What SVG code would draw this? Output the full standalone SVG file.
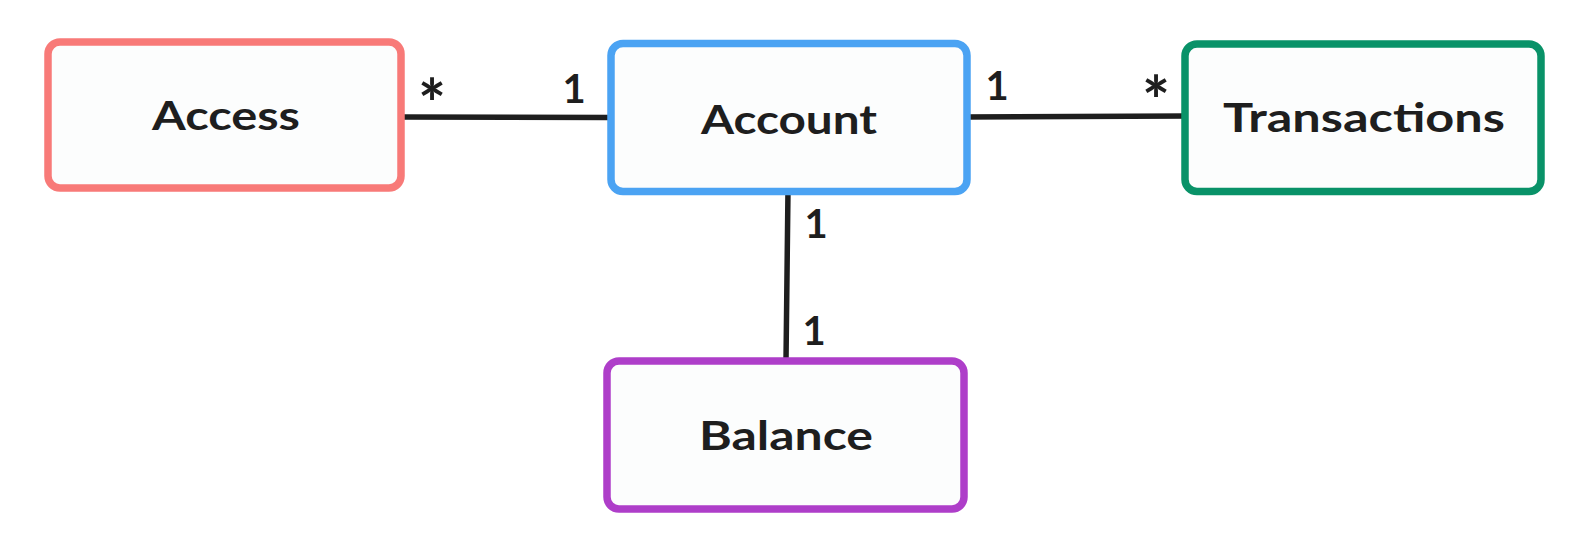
<svg xmlns="http://www.w3.org/2000/svg" width="1588" height="550" viewBox="0 0 1588 550">
<style>
.box{fill:#fcfdfd;stroke-width:7.5;stroke-linejoin:round}
.lbl{font-family:"Lato","Noto Sans",sans-serif;font-weight:700;font-size:41px;fill:#1e1e1e;text-anchor:middle}
.num{font-family:"Lato","Noto Sans",sans-serif;font-weight:700;font-size:40px;fill:#1e1e1e;text-anchor:middle}
.ast{font-family:"Lato","Noto Sans",sans-serif;font-weight:700;font-size:66px;fill:#1e1e1e;text-anchor:middle}
.edge{stroke:#1e1e1e;stroke-width:5.5;stroke-linecap:round;fill:none}
</style>
<rect width="1588" height="550" fill="#ffffff"/>
<g id="connectors">
<line class="edge" x1="401" y1="117" x2="612" y2="117.5"/>
<line class="edge" x1="965" y1="117" x2="1187" y2="116"/>
<line class="edge" x1="788" y1="190" x2="786" y2="361"/>
<text class="ast" x="432" y="128">*</text>
<text class="num" x="574" y="103">1</text>
<text class="num" x="997" y="100">1</text>
<text class="ast" x="1156" y="125">*</text>
<text class="num" x="816" y="238">1</text>
<text class="num" x="814" y="345">1</text>
</g>
<g id="access">
<rect class="box" x="48" y="42" width="353" height="146" rx="12" stroke="#f87a78"/>
<text class="lbl" x="226" y="130" textLength="148" lengthAdjust="spacingAndGlyphs">Access</text>
</g>
<g id="account">
<rect class="box" x="611" y="43.5" width="356" height="148" rx="12" stroke="#4ba3f3"/>
<text class="lbl" x="789" y="134" textLength="176" lengthAdjust="spacingAndGlyphs">Account</text>
</g>
<g id="transactions">
<rect class="box" x="1185" y="44" width="356" height="147.5" rx="12" stroke="#099268"/>
<text class="lbl" x="1364" y="132" textLength="282" lengthAdjust="spacingAndGlyphs">Transactions</text>
</g>
<g id="balance">
<rect class="box" x="607" y="361" width="357" height="148" rx="12" stroke="#ae3ec9"/>
<text class="lbl" x="786" y="450" textLength="174" lengthAdjust="spacingAndGlyphs">Balance</text>
</g>
</svg>
